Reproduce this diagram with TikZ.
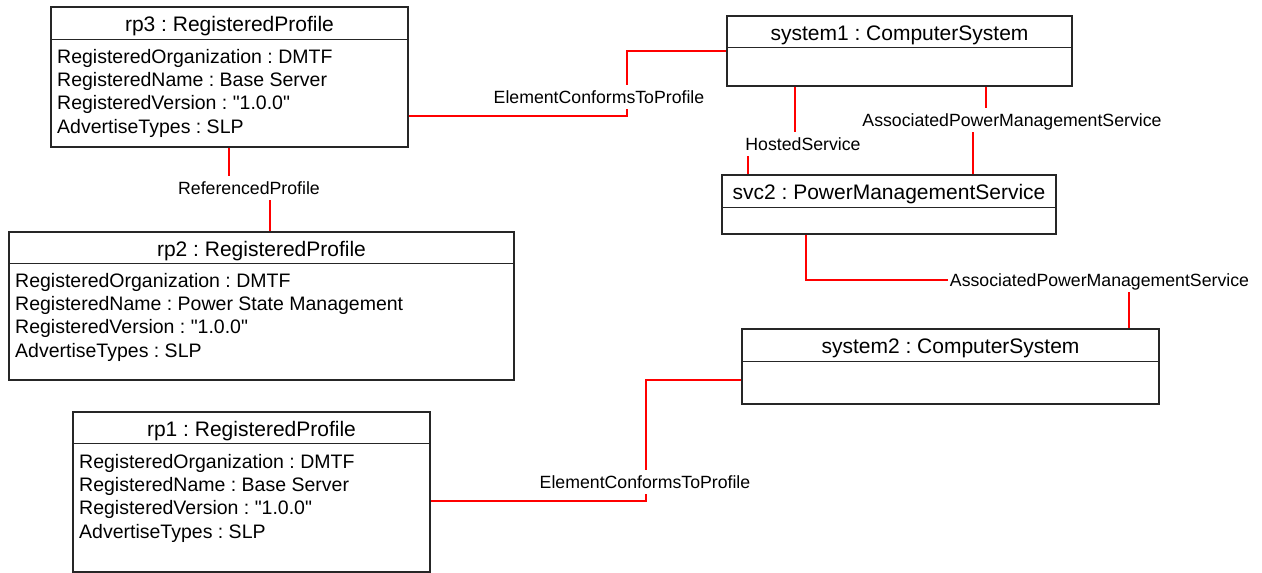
\documentclass[tikz,border=0pt]{standalone}
\usepackage{fontspec}
\setmainfont{Liberation Sans}
\frenchspacing
\usetikzlibrary{positioning}

\tikzset{
	objbox/.style={draw=black!85, line width=1.1pt, inner sep=0pt},
	objtitle/.style={font=\fontsize{21}{24}\selectfont, inner sep=0pt, anchor=base},
	objattr/.style={font=\fontsize{19.5}{23}\selectfont, inner sep=0pt, anchor=base west},
	assoc/.style={red, line width=1.2pt},
	assoclabel/.style={font=\fontsize{17.7}{20}\selectfont, fill=white, text height=12.7pt, text depth=0pt, inner xsep=2pt, inner ysep=6pt}
}

\begin{document}
\begin{tikzpicture}[x=1pt, y=-1pt]
	
	\useasboundingbox (0,0) rectangle (1262,573);
	
	% profiles
	\node[objbox, minimum width=357pt, minimum height=140pt] (rp3) at (229.5,77) {};
	\draw[objbox] ([yshift=-33pt]rp3.north west) -- ([yshift=-33pt]rp3.north east);
	\node[objtitle] (rp3t) at ([yshift=-25pt]rp3.north) {rp3 : RegisteredProfile};
	\node[objattr] (rp3a) at (57,63) {RegisteredOrganization : DMTF};
	\node[objattr] (rp3b) at (57,86.3) {RegisteredName : Base Server};
	\node[objattr] (rp3c) at (57,109.6) {RegisteredVersion : \textquotedbl 1.0.0\textquotedbl};
	\node[objattr] (rp3d) at (57,133) {AdvertiseTypes : SLP};
	
	\node[objbox, minimum width=505pt, minimum height=148pt] (rp2) at (261.5,306) {};
	\draw[objbox] ([yshift=-32pt]rp2.north west) -- ([yshift=-32pt]rp2.north east);
	\node[objtitle] (rp2t) at ([yshift=-25pt]rp2.north) {rp2 : RegisteredProfile};
	\node[objattr] (rp2a) at (15,287) {RegisteredOrganization : DMTF};
	\node[objattr] (rp2b) at (15,310.3) {RegisteredName : Power State Management};
	\node[objattr] (rp2c) at (15,333.6) {RegisteredVersion : \textquotedbl 1.0.0\textquotedbl};
	\node[objattr] (rp2d) at (15,357) {AdvertiseTypes : SLP};
	
	\node[objbox, minimum width=357pt, minimum height=160pt] (rp1) at (251.5,492) {};
	\draw[objbox] ([yshift=-32pt]rp1.north west) -- ([yshift=-32pt]rp1.north east);
	\node[objtitle] (rp1t) at ([yshift=-25pt]rp1.north) {rp1 : RegisteredProfile};
	\node[objattr] (rp1a) at (79,468) {RegisteredOrganization : DMTF};
	\node[objattr] (rp1b) at (79,491.3) {RegisteredName : Base Server};
	\node[objattr] (rp1c) at (79,514.6) {RegisteredVersion : \textquotedbl 1.0.0\textquotedbl};
	\node[objattr] (rp1d) at (79,538) {AdvertiseTypes : SLP};
	
	% systems and service
	\node[objbox, minimum width=345pt, minimum height=70pt] (sys1) at (899.5,51) {};
	\draw[objbox] ([yshift=-32pt]sys1.north west) -- ([yshift=-32pt]sys1.north east);
	\node[objtitle] (sys1t) at ([yshift=-25pt]sys1.north) {system1 : ComputerSystem};
	
	\node[objbox, minimum width=334pt, minimum height=59pt] (svc2) at (889,204.5) {};
	\draw[objbox] ([yshift=-33pt]svc2.north west) -- ([yshift=-33pt]svc2.north east);
	\node[objtitle] (svc2t) at ([yshift=-25pt]svc2.north) {svc2 : PowerManagementService};
	
	\node[objbox, minimum width=417pt, minimum height=75pt] (sys2) at (950.5,366.5) {};
	\draw[objbox] ([yshift=-33pt]sys2.north west) -- ([yshift=-33pt]sys2.north east);
	\node[objtitle] (sys2t) at ([yshift=-25pt]sys2.north) {system2 : ComputerSystem};
	
	% associations
	\coordinate (ec3a) at (627,116);
	\coordinate (ec3b) at (627,51);
	\draw[assoc] (rp3.east |- ec3a) -- (ec3a) -- (ec3b) -- (sys1.west |- ec3b);
	\node[assoclabel] (ec3l) at (599,97) {ElementConformsToProfile};
	
	\coordinate (rfa) at (229,188);
	\coordinate (rfb) at (270,188);
	\draw[assoc] (rp3.south -| rfa) -- (rfa) -- (rfb) -- (rp2.north -| rfb);
	\node[assoclabel] (rfl) at (249,188) {ReferencedProfile};
	
	\coordinate (hsa) at (795,144);
	\coordinate (hsb) at (748,144);
	\draw[assoc] (sys1.south -| hsa) -- (hsa) -- (hsb) -- (svc2.north -| hsb);
	\node[assoclabel] (hsl) at (803,144) {HostedService};
	
	\coordinate (apa) at (986,120);
	\coordinate (apb) at (973,120);
	\draw[assoc] (sys1.south -| apa) -- (apa) -- (apb) -- (svc2.north -| apb);
	\node[assoclabel] (apl) at (1012,120) {AssociatedPowerManagementService};
	
	\coordinate (apc) at (806,280);
	\coordinate (apd) at (1129,280);
	\draw[assoc] (svc2.south -| apc) -- (apc) -- (apd) -- (sys2.north -| apd);
	\node[assoclabel] (apl2) at (1099.5,280) {AssociatedPowerManagementService};
	
	\coordinate (ec1a) at (646,501);
	\coordinate (ec1b) at (646,380);
	\draw[assoc] (rp1.east |- ec1a) -- (ec1a) -- (ec1b) -- (sys2.west |- ec1b);
	\node[assoclabel] (ec1l) at (645,482) {ElementConformsToProfile};
	
\end{tikzpicture}
\end{document}
